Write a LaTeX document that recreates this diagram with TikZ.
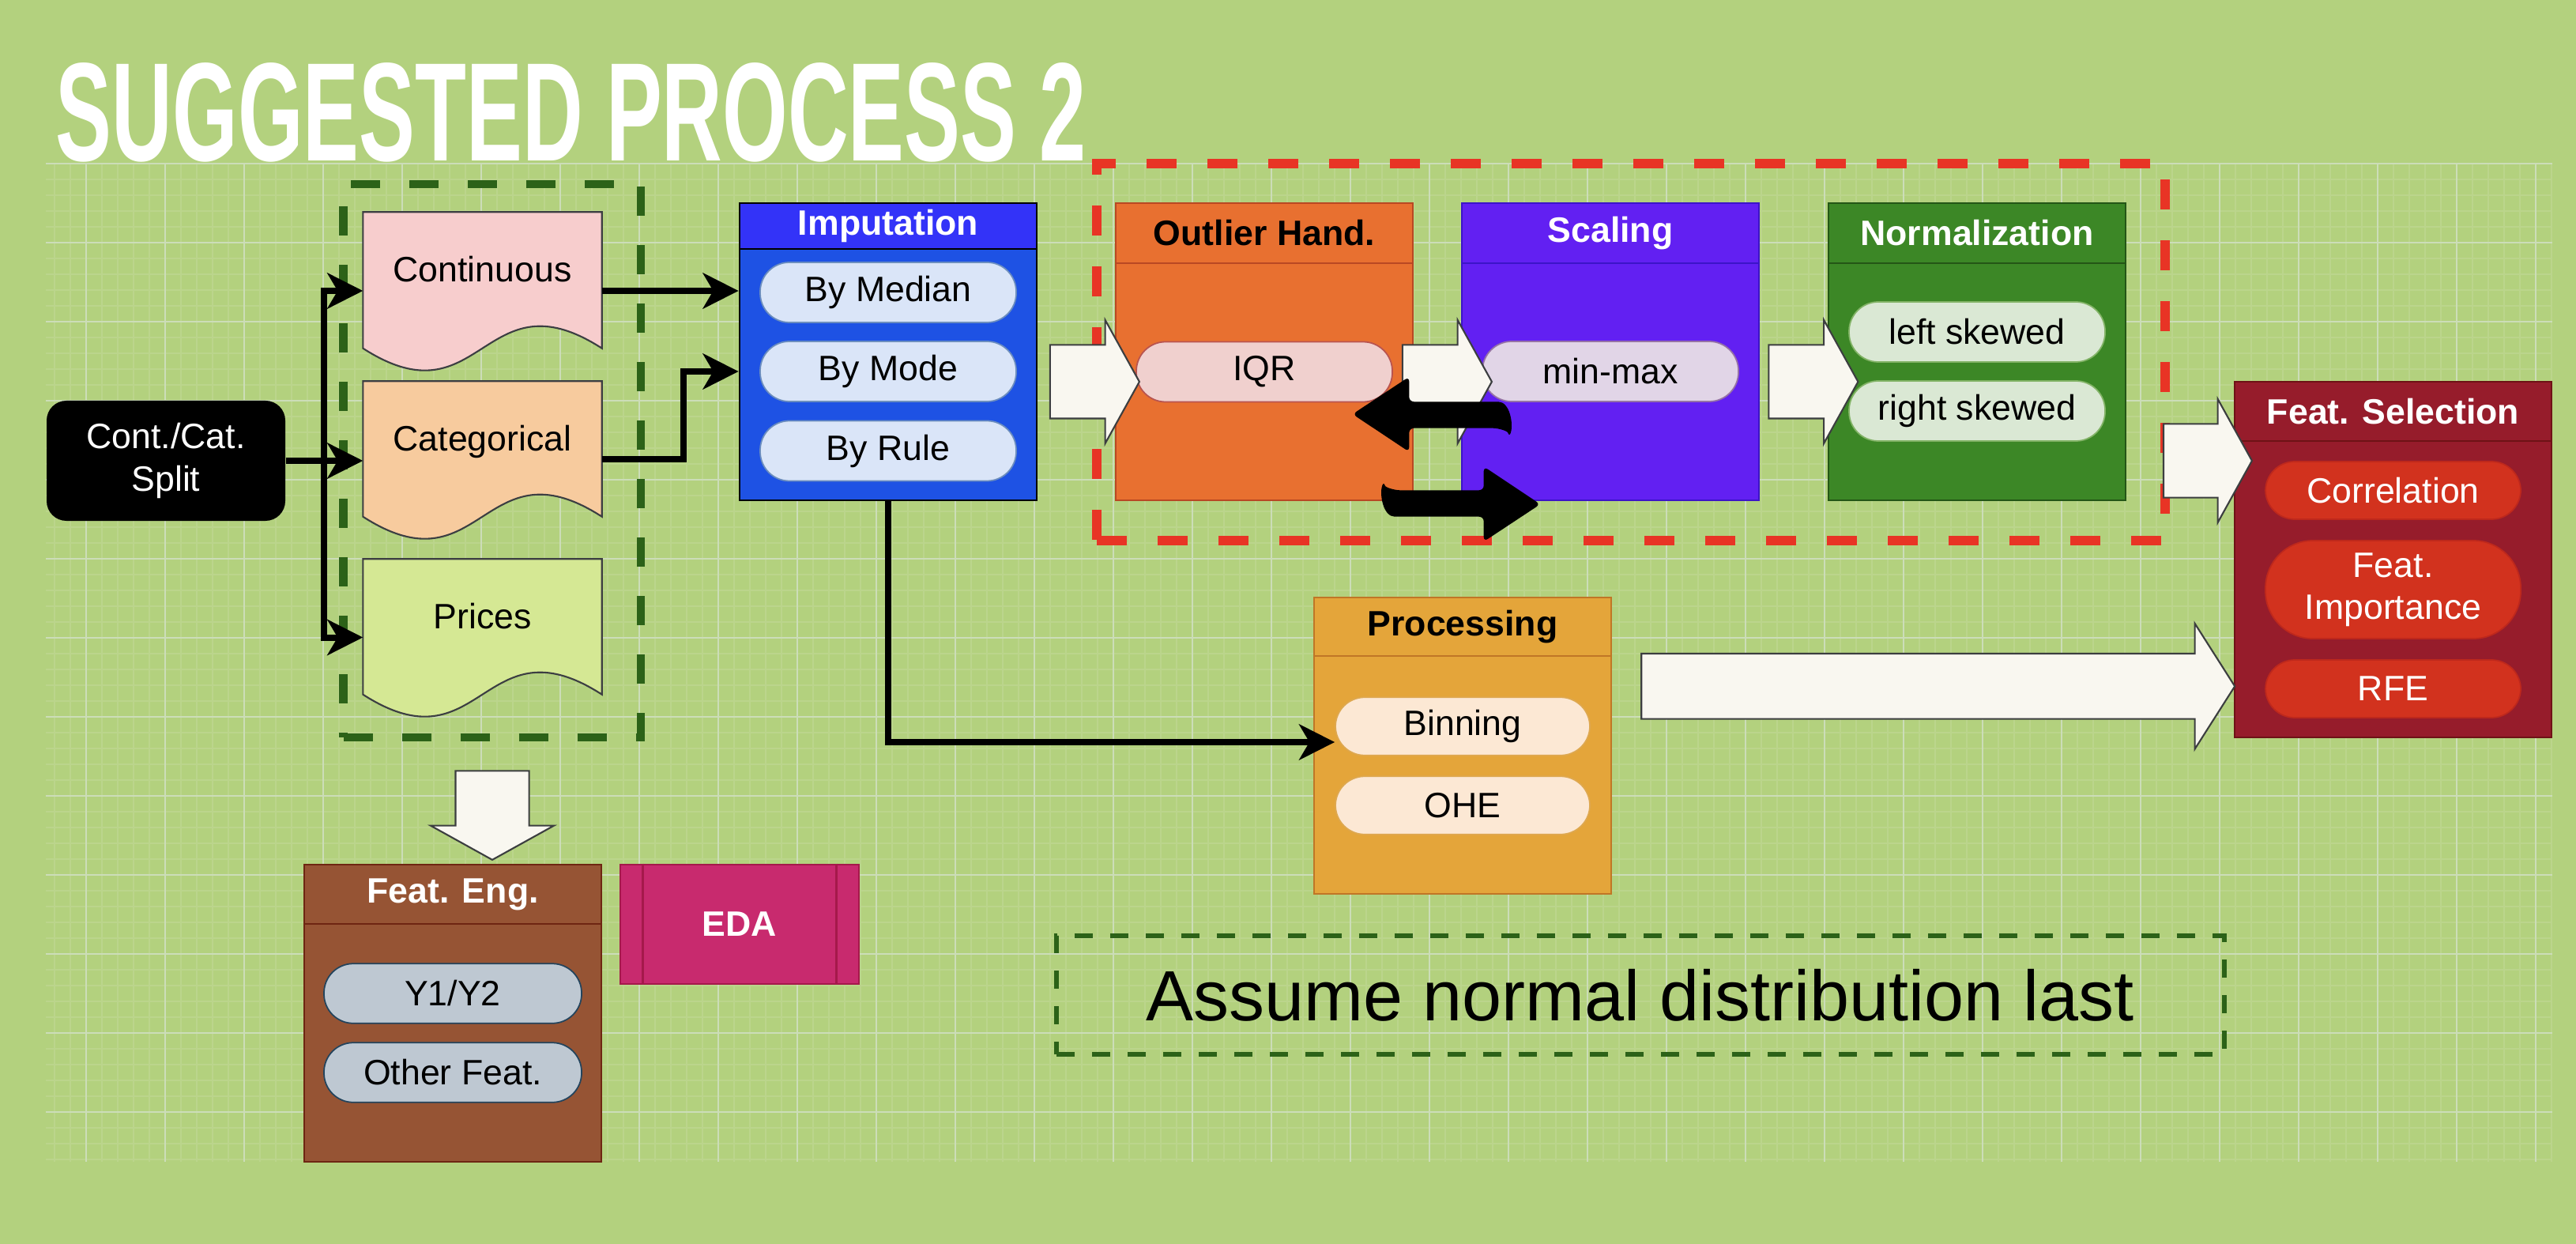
\documentclass[tikz,border=0pt]{standalone}
\usepackage{fontspec}
\setmainfont{Liberation Sans}
\usepackage{tikz}
\usepackage{xcolor}
\usetikzlibrary{shapes, positioning, arrows.meta}

\pgfdeclarelayer{back}
\pgfsetlayers{back,main}

\definecolor{bgcol}{RGB}{179,209,126}
\definecolor{gridminor}{RGB}{187,213,140}
\definecolor{gridmajor}{RGB}{204,221,184}
\definecolor{dashgreen}{RGB}{44,98,24}
\definecolor{dashred}{RGB}{232,52,37}
\definecolor{arrowfill}{RGB}{249,247,240}
\definecolor{arrowdraw}{RGB}{60,62,64}
\definecolor{docdraw}{RGB}{60,62,66}
\definecolor{contfill}{RGB}{247,205,205}
\definecolor{catfill}{RGB}{247,203,158}
\definecolor{pricefill}{RGB}{213,232,148}
\definecolor{imphead}{RGB}{51,51,248}
\definecolor{impbody}{RGB}{30,82,228}
\definecolor{imppill}{RGB}{218,229,248}
\definecolor{imppilldraw}{RGB}{108,142,191}
\definecolor{outfill}{RGB}{232,112,48}
\definecolor{outdraw}{RGB}{185,72,35}
\definecolor{iqrfill}{RGB}{240,208,206}
\definecolor{iqrdraw}{RGB}{184,84,80}
\definecolor{scalefill}{RGB}{98,32,242}
\definecolor{scaledraw}{RGB}{60,20,200}
\definecolor{mmfill}{RGB}{225,213,231}
\definecolor{mmdraw}{RGB}{150,115,166}
\definecolor{normfill}{RGB}{60,135,38}
\definecolor{normdraw}{RGB}{36,86,22}
\definecolor{skewfill}{RGB}{218,232,212}
\definecolor{skewdraw}{RGB}{130,179,102}
\definecolor{selfill}{RGB}{150,28,43}
\definecolor{seldraw}{RGB}{110,18,22}
\definecolor{selpill}{RGB}{210,50,30}
\definecolor{selpilldraw}{RGB}{190,40,28}
\definecolor{procfill}{RGB}{228,165,58}
\definecolor{procdraw}{RGB}{192,118,38}
\definecolor{procpill}{RGB}{252,232,212}
\definecolor{procpilldraw}{RGB}{222,168,80}
\definecolor{engfill}{RGB}{150,84,52}
\definecolor{engdraw}{RGB}{110,38,18}
\definecolor{engpill}{RGB}{190,200,210}
\definecolor{engpilldraw}{RGB}{35,68,93}
\definecolor{edafill}{RGB}{200,42,110}
\definecolor{edadraw}{RGB}{165,25,75}

\tikzset{
    lane/.style={draw, line width=0.8pt, minimum width=3.76cm, minimum height=3.76cm, inner sep=0pt},
    lanehead/.style={draw, line width=0.8pt, minimum width=3.76cm, inner sep=0pt, font=\fontsize{12.7}{15.2}\selectfont\bfseries},
    pill/.style={draw, line width=0.5pt, rounded corners=3.7mm, minimum width=3.24cm, minimum height=0.76cm, inner sep=0pt, align=center},
    doc/.style={minimum width=3.01cm, minimum height=1.98cm, inner sep=0pt, text height=0.35cm, text depth=0.57cm},
    docline/.style={draw=docdraw, line width=0.6pt},
    bigarrow/.style={single arrow, draw=arrowdraw, fill=arrowfill, line width=0.6pt, inner xsep=0pt, inner ysep=0.455cm, minimum height=1.13cm, single arrow head extend=0.315cm, single arrow tip angle=122},
    flow/.style={line width=0.8mm, -{Stealth[length=4.5mm, width=4.5mm, inset=1.3mm]}},
    swaparrow/.style={fill=black, rounded corners=0.6mm},
}

\begin{document}
\begin{tikzpicture}[every node/.style={font=\fontsize{12.7}{15.2}\selectfont}]
        \useasboundingbox (0, 0) rectangle (32.6, -15.74);
        \begin{pgfonlayer}{back}
            \fill[bgcol] (0, 0) rectangle (32.6, -15.74);
            \begin{scope}[shift={(1.09, -2.07)}]
                \draw[gridminor, line width=0.3pt, step=0.2] (-0.51, 0) grid (31.21, -12.63);
                \draw[gridmajor, line width=0.45pt, step=1] (-0.51, 0) grid (31.21, -12.63);
            \end{scope}
        \end{pgfonlayer}

        \node[text=white, inner sep=0pt] (title) at (7.23, -1.42) {\resizebox{13.04cm}{1.24cm}{\bfseries SUGGESTED PROCESS 2}};

        \node[draw=dashgreen, line width=2.85pt, dash pattern=on 3.7mm off 3.7mm, minimum width=3.76cm, minimum height=7cm] (types) at (6.225, -5.83) {};
        \node[draw=dashred, line width=3.4pt, dash pattern=on 3.8mm off 3.9mm, minimum width=13.52cm, minimum height=4.77cm] (scalegrp) at (20.64, -4.455) {};
        \node[draw=dashgreen, line width=1.7pt, dash pattern=on 2.3mm off 2.2mm, minimum width=14.78cm, minimum height=1.5cm, font=\fontsize{25.6}{30}\selectfont] (note) at (20.76, -12.59) {Assume normal distribution last};

        \node[fill=black, rounded corners=2.5mm, minimum width=3.02cm, minimum height=1.52cm, text=white, align=center] (split) at (2.10, -5.83) {Cont./Cat.\\Split};

        \node[doc] (cont) at (6.105, -3.68) {Continuous};
        \node[doc, minimum height=1.97cm] (cat) at (6.105, -5.815) {Categorical};
        \node[doc, minimum height=1.97cm] (prices) at (6.105, -8.065) {Prices};
        \begin{pgfonlayer}{back}
            \draw[docline, fill=contfill] (cont.north west) -- (cont.north east) -- ([yshift=2.7mm]cont.south east) .. controls +(-1.505, 0.97) and +(1.505, -0.97) .. ([yshift=2.7mm]cont.south west) -- cycle;
            \draw[docline, fill=catfill] (cat.north west) -- (cat.north east) -- ([yshift=2.7mm]cat.south east) .. controls +(-1.505, 0.97) and +(1.505, -0.97) .. ([yshift=2.7mm]cat.south west) -- cycle;
            \draw[docline, fill=pricefill] (prices.north west) -- (prices.north east) -- ([yshift=2.7mm]prices.south east) .. controls +(-1.505, 0.97) and +(1.505, -0.97) .. ([yshift=2.7mm]prices.south west) -- cycle;
        \end{pgfonlayer}

        \node[lane, fill=impbody, draw=black] (imp) at (11.24, -4.45) {};
        \node[lanehead, fill=imphead, draw=black, text=white, minimum height=0.58cm] (imph) at (11.24, -2.86) {Imputation};
        \node[pill, fill=imppill, draw=imppilldraw] (median) at (11.24, -3.70) {By Median};
        \node[pill, fill=imppill, draw=imppilldraw] (mode) at (11.24, -4.70) {By Mode};
        \node[pill, fill=imppill, draw=imppilldraw] (rule) at (11.24, -5.705) {By Rule};

        \node[lane, fill=outfill, draw=outdraw] (outl) at (16.00, -4.45) {};
        \node[lanehead, fill=outfill, draw=outdraw, minimum height=0.76cm] (outh) at (16.00, -2.95) {Outlier Hand.};
        \node[pill, fill=iqrfill, draw=iqrdraw] (iqr) at (16.00, -4.705) {IQR};

        \node[lane, fill=scalefill, draw=scaledraw] (scal) at (20.38, -4.45) {};
        \node[lanehead, fill=scalefill, draw=scaledraw, text=white, minimum height=0.76cm] (scalh) at (20.38, -2.95) {Scaling};
        \node[pill, fill=mmfill, draw=mmdraw] (minmax) at (20.38, -4.70) {min-max};

        \node[lane, fill=normfill, draw=normdraw] (norm) at (25.02, -4.45) {};
        \node[lanehead, fill=normfill, draw=normdraw, text=white, minimum height=0.76cm] (normh) at (25.02, -2.95) {Normalization};
        \node[pill, fill=skewfill, draw=skewdraw] (lskew) at (25.02, -4.20) {left skewed};
        \node[pill, fill=skewfill, draw=skewdraw] (rskew) at (25.02, -5.20) {right skewed};

        \node[lane, fill=selfill, draw=seldraw, minimum width=4.01cm, minimum height=4.5cm] (sel) at (30.285, -7.08) {};
        \node[lanehead, fill=selfill, draw=seldraw, text=white, minimum width=4.01cm, minimum height=0.75cm] (selh) at (30.285, -5.205) {Feat. Selection};
        \node[pill, fill=selpill, draw=selpilldraw, text=white, minimum width=3.23cm, minimum height=0.73cm] (corr) at (30.285, -6.205) {Correlation};
        \node[pill, fill=selpill, draw=selpilldraw, text=white, minimum width=3.23cm, minimum height=1.24cm, rounded corners=6mm] (imprt) at (30.285, -7.46) {Feat.\\Importance};
        \node[pill, fill=selpill, draw=selpilldraw, text=white, minimum width=3.23cm, minimum height=0.73cm] (rfe) at (30.285, -8.715) {RFE};

        \node[lane, fill=procfill, draw=procdraw, minimum height=3.75cm] (proc) at (18.51, -9.435) {};
        \node[lanehead, fill=procfill, draw=procdraw, minimum height=0.74cm] (proch) at (18.51, -7.93) {Processing};
        \node[pill, fill=procpill, draw=procpilldraw, minimum width=3.22cm, minimum height=0.735cm] (binning) at (18.51, -9.19) {Binning};
        \node[pill, fill=procpill, draw=procpilldraw, minimum width=3.22cm, minimum height=0.735cm] (ohe) at (18.51, -10.19) {OHE};

        \node[lane, fill=engfill, draw=engdraw] (eng) at (5.73, -12.82) {};
        \node[lanehead, fill=engfill, draw=engdraw, text=white, minimum height=0.75cm] (engh) at (5.73, -11.315) {Feat. Eng.};
        \node[pill, fill=engpill, draw=engpilldraw, minimum width=3.26cm, minimum height=0.755cm] (y12) at (5.73, -12.57) {Y1/Y2};
        \node[pill, fill=engpill, draw=engpilldraw, minimum width=3.26cm, minimum height=0.755cm] (other) at (5.73, -13.57) {Other Feat.};

        \node[draw=edadraw, fill=edafill, line width=0.8pt, minimum width=3.02cm, minimum height=1.51cm, text=white, font=\fontsize{12.7}{15.2}\selectfont\bfseries] (eda) at (9.36, -11.695) {EDA};
        \draw[edadraw, line width=0.8pt] ([xshift=3mm]eda.north west) -- ([xshift=3mm]eda.south west);
        \draw[edadraw, line width=0.8pt] ([xshift=-3mm]eda.north east) -- ([xshift=-3mm]eda.south east);

        \coordinate (fork) at (4.10, -5.83);
        \draw[flow] (split.east) -- (split.east -| cat.west);
        \draw[flow] (fork) |- (cont.west);
        \draw[flow] (fork) |- (prices.west);
        \draw[flow] (cont.east) -- (cont.east -| imp.west);
        \draw[flow] (cat.east) -- ++(1.03, 0) |- ([yshift=-2.5mm]imp.west);
        \draw[flow] (imp.south) |- ([yshift=-2mm]binning.west);

        \node[bigarrow] (a1) at (13.725, -4.83) {};
        \node[bigarrow] (a2) at (18.185, -4.83) {};
        \node[bigarrow] (a3) at (22.82, -4.83) {};
        \node[bigarrow, minimum height=1.12cm] (a4) at (27.81, -5.83) {};
        \node[bigarrow, minimum height=7.51cm, inner ysep=0.403cm, single arrow head extend=0.38cm, single arrow tip angle=115] (a5) at (24.395, -8.683) {};
        \node[bigarrow, minimum height=1.125cm, rotate=-90] (a6) at (6.23, -10.1875) {};

        \fill[swaparrow, shift={(18.305, -5.81)}] (-0.472, 0.727) -- (0.595, 0.727) .. controls (0.80, 0.727) and (0.85, 0.45) .. (0.795, 0.277) .. controls (0.77, 0.36) and (0.65, 0.393) .. (0.528, 0.393) -- (-0.472, 0.393) -- (-0.472, 0.093) -- (-1.188, 0.57) -- (-0.472, 1.043) -- cycle;
        \fill[swaparrow, shift={(18.305, -5.81)}, rotate=180] (-0.472, 0.727) -- (0.595, 0.727) .. controls (0.80, 0.727) and (0.85, 0.45) .. (0.795, 0.277) .. controls (0.77, 0.36) and (0.65, 0.393) .. (0.528, 0.393) -- (-0.472, 0.393) -- (-0.472, 0.093) -- (-1.188, 0.57) -- (-0.472, 1.043) -- cycle;
    \end{tikzpicture}
\end{document}
